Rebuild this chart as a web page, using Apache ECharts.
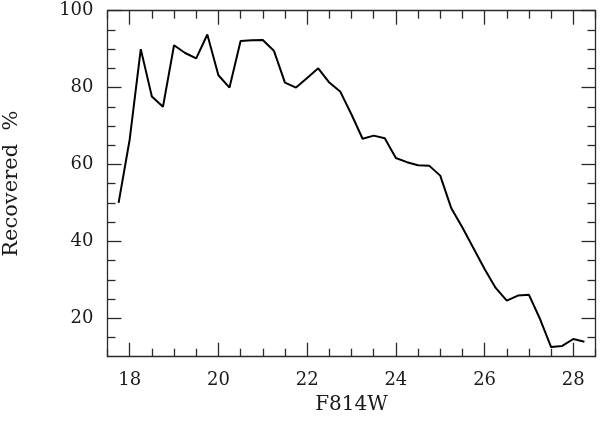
<!DOCTYPE html>
<html>
<head>
<meta charset="utf-8">
<script src="https://cdn.jsdelivr.net/npm/echarts@6/dist/echarts.min.js"></script>
<style>html,body{margin:0;padding:0;background:#fff;}#c{width:600px;height:423px;}</style>
</head>
<body>
<div id="c"></div>
<script>
var magnitudes = [17.75, 18.0, 18.25, 18.5, 18.75, 19.0, 19.25, 19.5, 19.75, 20.0, 20.25, 20.5, 20.75, 21.0, 21.25, 21.5, 21.75, 22.0, 22.25, 22.5, 22.75, 23.0, 23.25, 23.5, 23.75, 24.0, 24.25, 24.5, 24.75, 25.0, 25.25, 25.5, 25.75, 26.0, 26.25, 26.5, 26.75, 27.0, 27.25, 27.5, 27.75, 28.0, 28.25];
var recovered = [50, 66.5, 90, 77.7, 75, 91, 89, 87.6, 93.8, 83.2, 80, 92.1, 92.3, 92.4, 89.6, 81.3, 80, 82.5, 85, 81.3, 78.9, 73, 66.7, 67.5, 66.8, 61.7, 60.6, 59.8, 59.7, 57.1, 48.6, 43.6, 38.2, 32.8, 27.9, 24.6, 25.9, 26.1, 19.8, 12.5, 12.8, 14.6, 13.9];
var xMajorTicks = [18, 20, 22, 24, 26, 28];
var xMinorTicks = [17.5, 18.5, 19, 19.5, 20.5, 21, 21.5, 22.5, 23, 23.5, 24.5, 25, 25.5, 26.5, 27, 27.5, 28.5];
var yMajorTicks = [20, 40, 60, 80, 100];
var yMinorTicks = [15, 25, 30, 35, 45, 50, 55, 65, 70, 75, 85, 90, 95];
var xName = 'F814W';
var yName = 'Recovered  %';

var FONT = 'DejaVu Serif';
var LC = '#2a2a2a';
var xMin = 17.5, xMax = 28.5, yMin = 10, yMax = 100;

function xAx(pos, ticks, len, showLabel, showLine) {
  return {
    type: 'value', position: pos, min: xMin, max: xMax, gridIndex: 0,
    axisLine: {show: showLine, onZero: false, lineStyle: {color: LC, width: 1.3}},
    splitLine: {show: false},
    axisTick: {show: true, inside: true, length: len, customValues: ticks, lineStyle: {color: LC, width: 1.3}},
    axisLabel: {show: showLabel, customValues: ticks, margin: 15, fontFamily: FONT, fontSize: 18, color: '#1a1a1a'}
  };
}
function yAx(pos, ticks, len, showLabel, showLine) {
  return {
    type: 'value', position: pos, min: yMin, max: yMax, gridIndex: 0,
    axisLine: {show: showLine, onZero: false, lineStyle: {color: LC, width: 1.3}},
    splitLine: {show: false},
    axisTick: {show: true, inside: true, length: len, customValues: ticks, lineStyle: {color: LC, width: 1.3}},
    axisLabel: {show: showLabel, customValues: ticks, margin: 14, fontFamily: FONT, fontSize: 18, color: '#1a1a1a'}
  };
}

var xMain = xAx('bottom', xMajorTicks, 14, true, true);
xMain.name = xName; xMain.nameLocation = 'middle'; xMain.nameGap = 33;
xMain.nameTextStyle = {fontFamily: FONT, fontSize: 20, color: '#1a1a1a'};
var yMain = yAx('left', yMajorTicks, 14, true, true);
yMain.name = yName; yMain.nameLocation = 'middle'; yMain.nameGap = 85; yMain.nameRotate = 90;
yMain.nameTextStyle = {fontFamily: FONT, fontSize: 21, color: '#1a1a1a'};

var data = magnitudes.map(function (m, i) { return [m, recovered[i]]; });

var chart = echarts.init(document.getElementById('c'), null, {renderer: 'canvas'});
chart.setOption({
  backgroundColor: '#ffffff',
  animation: false,
  grid: {left: 107.5, right: 4.5, top: 10.7, bottom: 66.3, containLabel: false, outerBoundsMode: 'none'},
  xAxis: [
    xMain,
    xAx('bottom', xMinorTicks, 8, false, false),
    xAx('top', xMajorTicks, 14, false, true),
    xAx('top', xMinorTicks, 8, false, false)
  ],
  yAxis: [
    yMain,
    yAx('left', yMinorTicks, 8, false, false),
    yAx('right', yMajorTicks, 14, false, true),
    yAx('right', yMinorTicks, 8, false, false)
  ],
  series: [{
    type: 'line', xAxisIndex: 0, yAxisIndex: 0, data: data,
    showSymbol: false, symbol: 'none',
    lineStyle: {color: '#000', width: 2}
  }]
});
</script>
</body>
</html>
